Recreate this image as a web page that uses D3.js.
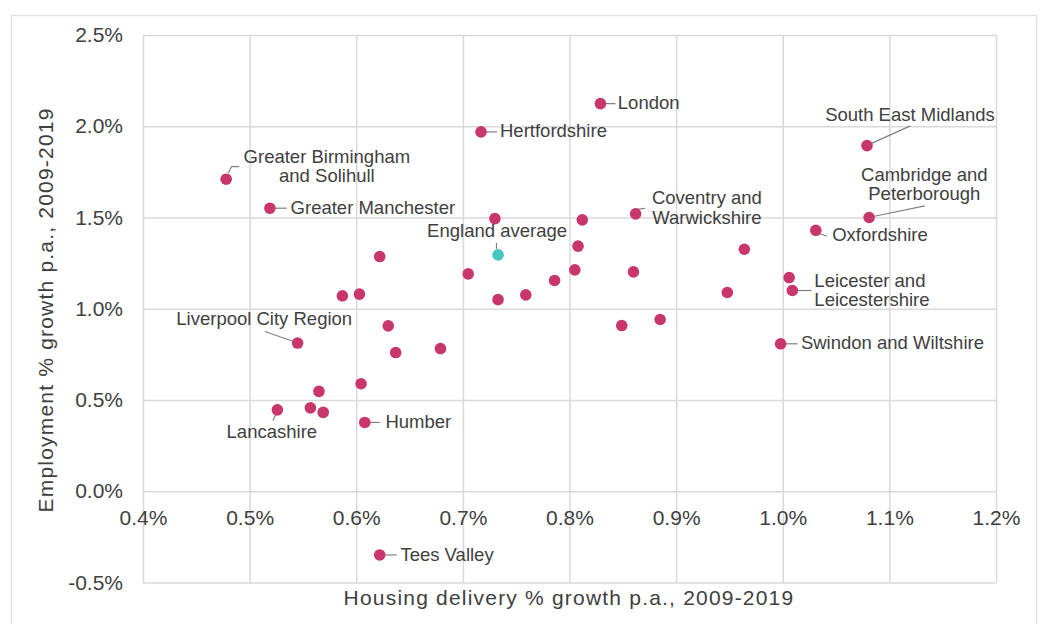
<!DOCTYPE html>
<html>
<head>
<meta charset="utf-8">
<script src="https://cdn.jsdelivr.net/npm/d3@7"></script>
<style>
  html, body { margin: 0; padding: 0; background: #ffffff; }
  svg { display: block; font-family: "Liberation Sans", Arial, sans-serif; }
  .grid line { stroke: #d9d9d9; stroke-width: 1.5; }
  .grid path { display: none; }
  .ticklab text { fill: #404040; font-size: 21px; }
  .ticklab path, .ticklab line { display: none; }
  .lbl { fill: #404040; font-size: 18.5px; }
  .leader { fill: none; stroke: #808080; stroke-width: 1.2; }
  .title { fill: #404040; font-size: 21px; letter-spacing: 1.2px; }
</style>
</head>
<body>
<svg id="chart" width="1045" height="624"></svg>
<script>
// ---------- data ----------
// Local Enterprise Partnerships (unlabelled ones have an empty name)
const names = [
  "Greater Birmingham and Solihull", "Greater Manchester", "Hertfordshire", "London",
  "South East Midlands", "Cambridge and Peterborough", "Coventry and Warwickshire",
  "Oxfordshire", "Leicester and Leicestershire", "Swindon and Wiltshire",
  "Liverpool City Region", "Lancashire", "Humber", "Tees Valley",
  "", "", "", "", "", "", "", "", "", "", "", "", "",
  "", "", "", "", "", "", "", "", "", "", ""
];
// Housing delivery % growth p.a., 2009-2019
const housingGrowth = [
  0.478, 0.519, 0.717, 0.829,
  1.079, 1.081, 0.862,
  1.031, 1.009, 0.998,
  0.545, 0.526, 0.608, 0.622,
  0.730, 0.622, 0.705, 0.587, 0.603, 0.733, 0.812, 0.808, 0.964, 0.805, 0.860, 0.786, 0.759,
  0.948, 1.006, 0.849, 0.885, 0.630, 0.637, 0.679, 0.6045, 0.565, 0.557, 0.569
];
// Employment % growth p.a., 2009-2019
const employmentGrowth = [
  1.710, 1.551, 1.969, 2.124,
  1.894, 1.500, 1.520,
  1.430, 1.100, 0.808,
  0.812, 0.446, 0.377, -0.349,
  1.494, 1.286, 1.191, 1.071, 1.080, 1.050, 1.487, 1.343, 1.326, 1.213, 1.202, 1.155, 1.076,
  1.089, 1.171, 0.908, 0.941, 0.906, 0.760, 0.782, 0.589, 0.547, 0.457, 0.432
];
const averageName = "England average";
const averageHousing = 0.733;
const averageEmployment = 1.295;

const xTicks = [0.4, 0.5, 0.6, 0.7, 0.8, 0.9, 1.0, 1.1, 1.2];
const yTicks = [-0.5, 0.0, 0.5, 1.0, 1.5, 2.0, 2.5];
const xTitle = "Housing delivery % growth p.a., 2009-2019";
const yTitle = "Employment % growth p.a., 2009-2019";

// ---------- layout (label placement relative to point, in px) ----------
const labelLayout = {
  "Greater Birmingham and Solihull": {anchor: "middle", dx: 100.7, dy: -16, lines: ["Greater Birmingham", "and Solihull"], lead: [[2,-6],[5.4,-12.6],[13,-12.6]]},
  "Greater Manchester": {anchor: "start", dx: 20.7, dy: 5.7, lead: [[5,0],[17,0]]},
  "Hertfordshire": {anchor: "start", dx: 19, dy: 5.3, lead: [[5,0],[16,0]]},
  "London": {anchor: "start", dx: 17.4, dy: 5.6, lead: [[5,0],[15,0]]},
  "South East Midlands": {anchor: "middle", dx: 43, dy: -25, lead: [[4,-2],[43.3,-19.7]]},
  "Cambridge and Peterborough": {anchor: "middle", dx: 55.2, dy: -36.5, lines: ["Cambridge and", "Peterborough"], lead: [[4,-1],[55.7,-11.7]]},
  "Coventry and Warwickshire": {anchor: "middle", dx: 71.3, dy: -9.5, lines: ["Coventry and", "Warwickshire"], lead: [[1.6,-4.4],[9.3,-5.4]]},
  "Oxfordshire": {anchor: "start", dx: 16.4, dy: 10.4, lead: [[3,3],[11,6]]},
  "Leicester and Leicestershire": {anchor: "start", dx: 22, dy: -3.8, lines: ["Leicester and", "Leicestershire"], lead: [[5,0],[19,0]]},
  "Swindon and Wiltshire": {anchor: "start", dx: 20.3, dy: 5.3, lead: [[5,0],[17,0]]},
  "Liverpool City Region": {anchor: "middle", dx: -33.4, dy: -18.3, lead: [[-4,-1.6],[-32.7,-11.6]]},
  "Lancashire": {anchor: "middle", dx: -5.5, dy: 28.3, lead: [[-1.7,5],[-4.4,10.7]]},
  "Humber": {anchor: "start", dx: 20.7, dy: 5.6, lead: [[4,0],[15,0]]},
  "Tees Valley": {anchor: "start", dx: 20.7, dy: 5.7, lead: [[4,0],[17,0]]},
  "England average": {anchor: "middle", dx: -1, dy: -18, lead: [[-1.6,-12],[-1.6,-6]]}
};
const lineGap = 19.2;

const margin = {left: 143, right: 996, top: 35, bottom: 582.5};
const pointColor = "#c8366b";
const avgColor = "#45c6c1";

// ---------- drawing ----------
const svg = d3.select("#chart");

// outer frame
svg.append("rect")
  .attr("x", 11.5).attr("y", 15.5).attr("width", 1025).attr("height", 640)
  .attr("fill", "none").attr("stroke", "#e3e3e3").attr("stroke-width", 1.5);

const x = d3.scaleLinear().domain([0.4, 1.2]).range([margin.left, margin.right]);
const y = d3.scaleLinear().domain([-0.5, 2.5]).range([margin.bottom, margin.top]);
const plotW = margin.right - margin.left;
const plotH = margin.bottom - margin.top;
const fmt = d => d.toFixed(1) + "%";

// horizontal gridlines + y tick labels
svg.append("g").attr("class", "grid ticklab-y")
  .attr("transform", `translate(${margin.left},0)`)
  .call(d3.axisLeft(y).tickValues(yTicks).tickSize(-plotW).tickPadding(20).tickFormat(fmt))
  .call(g => g.selectAll("text").attr("fill", "#404040").style("font-size", "21px"));

// vertical gridlines
svg.append("g").attr("class", "grid")
  .attr("transform", `translate(0,${margin.bottom})`)
  .call(d3.axisBottom(x).tickValues(xTicks).tickSize(-plotH).tickFormat(""));

// x tick labels along zero line
svg.append("g").attr("class", "ticklab")
  .attr("transform", `translate(0,${y(0)})`)
  .call(d3.axisBottom(x).tickValues(xTicks).tickSize(0).tickPadding(19).tickFormat(fmt));

svg.selectAll(".ticklab-y path").style("display", "none");

// axis titles
svg.append("text").attr("class", "title")
  .attr("x", 569).attr("y", 605).attr("text-anchor", "middle").text(xTitle);
svg.append("text").attr("class", "title")
  .attr("transform", "translate(53,310) rotate(-90)")
  .attr("text-anchor", "middle").text(yTitle);

// points data
const pts = names.map((n, i) => ({name: n, hx: housingGrowth[i], ey: employmentGrowth[i], avg: false}));
pts.push({name: averageName, hx: averageHousing, ey: averageEmployment, avg: true});

// leader lines
const lineGen = d3.line();
svg.append("g").selectAll("path")
  .data(pts.filter(d => labelLayout[d.name]))
  .join("path").attr("class", "leader")
  .attr("d", d => {
    const px = x(d.hx), py = y(d.ey);
    return lineGen(labelLayout[d.name].lead.map(p => [px + p[0], py + p[1]]));
  });

// markers
svg.append("g").selectAll("circle")
  .data(pts)
  .join("circle")
  .attr("cx", d => x(d.hx))
  .attr("cy", d => y(d.ey))
  .attr("r", 5.8)
  .attr("fill", d => d.avg ? avgColor : pointColor);

// labels
const lg = svg.append("g");
pts.filter(d => labelLayout[d.name]).forEach(d => {
  const L = labelLayout[d.name];
  const px = x(d.hx), py = y(d.ey);
  const lines = L.lines || [d.name];
  const t = lg.append("text").attr("class", "lbl").attr("text-anchor", L.anchor);
  lines.forEach((s, i) => {
    t.append("tspan").attr("x", px + L.dx).attr("y", py + L.dy + i * lineGap).text(s);
  });
});
</script>
</body>
</html>
